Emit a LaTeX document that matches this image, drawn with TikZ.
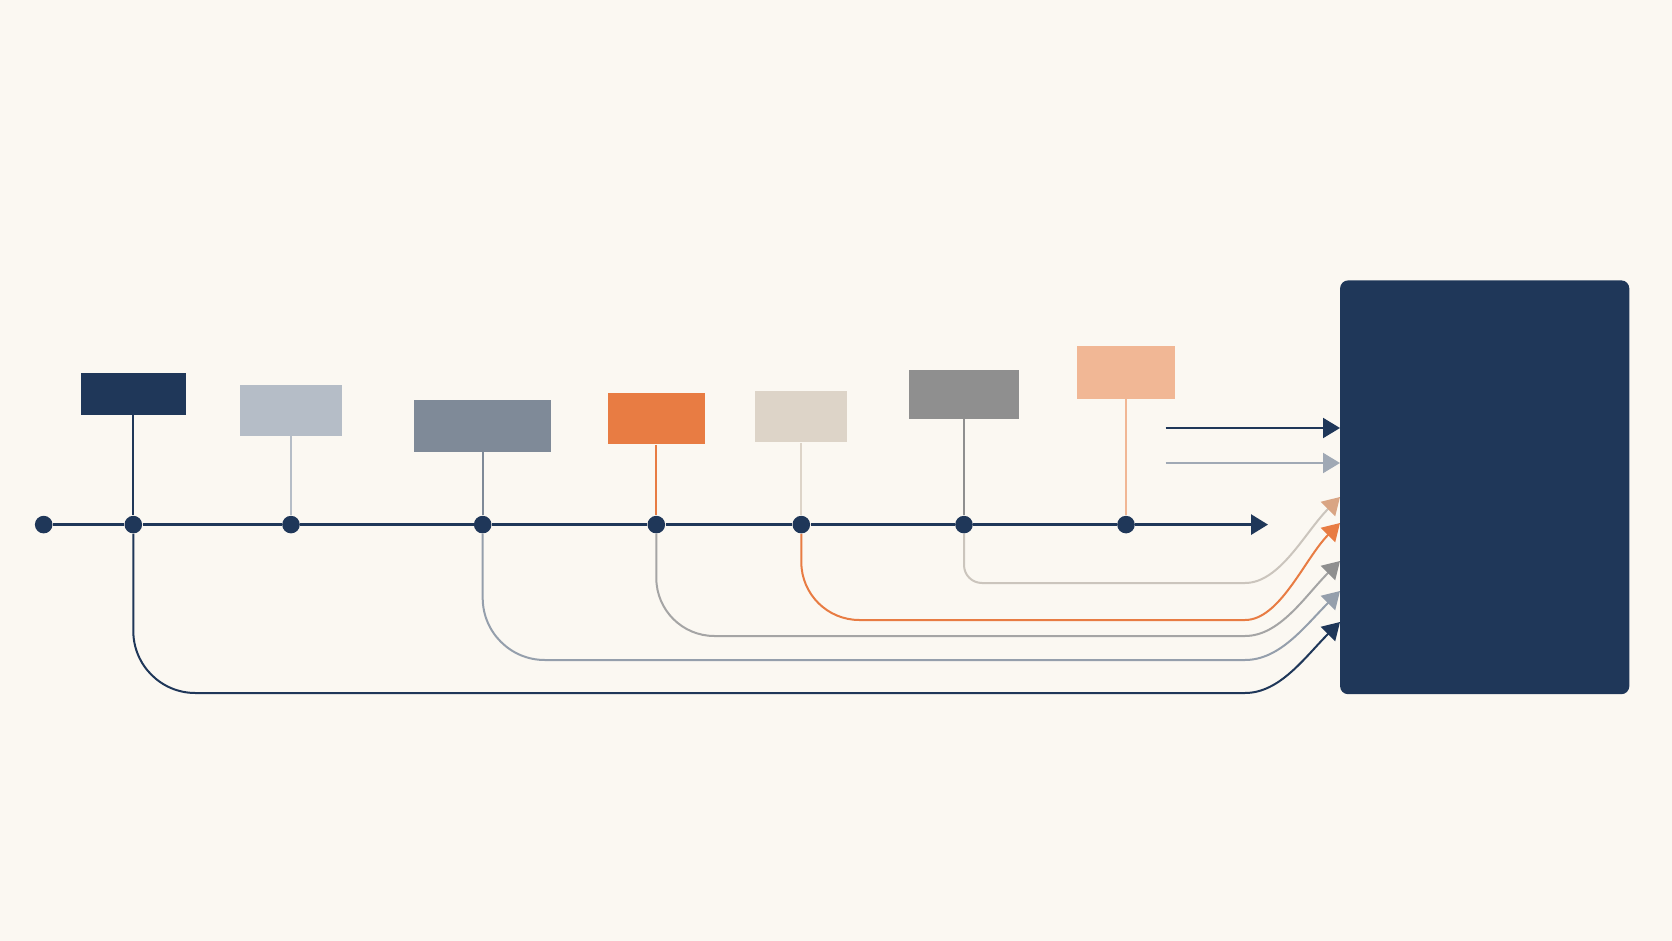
\documentclass[tikz,border=0pt]{standalone}
\usetikzlibrary{arrows.meta}
\definecolor{bgcol}{HTML}{FBF8F2}
\definecolor{navy}{HTML}{1F3759}
\definecolor{mist}{HTML}{B5BDC7}
\definecolor{slate}{HTML}{7F8A98}
\definecolor{rust}{HTML}{E87C43}
\definecolor{sand}{HTML}{DDD4C8}
\definecolor{ash}{HTML}{8F8F8F}
\definecolor{peach}{HTML}{F1B795}
\definecolor{tanarr}{HTML}{D9A584}
\definecolor{pebble}{HTML}{CBC5BD}
\definecolor{bluegray}{HTML}{959FAC}
\definecolor{fog}{HTML}{A0A9B5}
\def\Ty{524.6}
\def\Hx{1245}
\def\Bx{1340}

\begin{document}
\begin{tikzpicture}[x=0.5pt,y=-0.5pt,
  tag/.style={rectangle,inner sep=0pt},
  dot/.style={circle,fill=navy,inner sep=0pt,minimum size=8.8pt},
  stem/.style={line width=1pt},
  link/.style={line width=1pt},
  tip/.style={-{Triangle[length=8.5pt,width=10pt]}}]
\fill[bgcol] (0,0) rectangle (1672,941);
\useasboundingbox (0,0) rectangle (1672,941);

\node[tag,fill=navy,minimum width=52.25pt,minimum height=21pt] (b1) at (133.3,394) {};
\node[tag,fill=mist,minimum width=51pt,minimum height=25.5pt] (b2) at (291,410.5) {};
\node[tag,fill=slate,minimum width=68.5pt,minimum height=26pt] (b3) at (482.7,426) {};
\node[tag,fill=rust,minimum width=48.5pt,minimum height=25.5pt] (b4) at (656.3,419) {};
\node[tag,fill=sand,minimum width=46pt,minimum height=25.75pt] (b5) at (801.3,416.7) {};
\node[tag,fill=ash,minimum width=54.75pt,minimum height=24.5pt] (b6) at (964,394.5) {};
\node[tag,fill=peach,minimum width=49pt,minimum height=26.25pt] (b7) at (1126,372.7) {};

\node[tag,fill=navy,rounded corners=4pt,minimum width=144.6pt,minimum height=206.9pt] (blk) at (1484.7,487.3) {};

\node[dot] (d0) at (43.7,\Ty) {};
\node[dot] (d1) at (133.3,\Ty) {};
\node[dot] (d2) at (291,\Ty) {};
\node[dot] (d3) at (482.7,\Ty) {};
\node[dot] (d4) at (656.3,\Ty) {};
\node[dot] (d5) at (801.3,\Ty) {};
\node[dot] (d6) at (964,\Ty) {};
\node[dot] (d7) at (1126,\Ty) {};

\coordinate (tl) at (1268,\Ty);
\coordinate (a0) at (1165.5,428);
\coordinate (a1) at (\Bx,428);
\coordinate (e0) at (1165.5,463);
\coordinate (e1) at (\Bx,463);
\coordinate (tc) at (\Bx,497);
\coordinate (td) at (\Bx,523);
\coordinate (te) at (\Bx,561);
\coordinate (tf) at (\Bx,591);
\coordinate (tg) at (\Bx,622);

\draw[stem,navy] (b1) -- (d1);
\draw[stem,mist] (b2) -- (d2);
\draw[stem,slate] (b3) -- (d3);
\draw[stem,rust] (b4) -- (d4);
\draw[stem,sand] (b5) -- (d5);
\draw[stem,ash] (b6) -- (d6);
\draw[stem,peach] (b7) -- (d7);

\draw[line width=1.5pt,navy,tip] (d0) -- (d1) -- (d2) -- (d3) -- (d4) -- (d5) -- (d6) -- (d7) -- (tl);

\draw[link,navy,tip] (a0) -- (a1);
\draw[link,fog,tip] (e0) -- (e1);

\draw[link,navy,tip] (d1) -- (133.3,631) .. controls (133.3,665.2) and (161.1,693) .. (195.3,693)
  -- (\Hx,693) .. controls (1280,693) and (1305,657) .. (tg);
\draw[link,bluegray,tip] (d3) -- (482.7,598) .. controls (482.7,632.2) and (510.5,660) .. (544.7,660)
  -- (\Hx,660) .. controls (1280,660) and (1305,626) .. (tf);
\draw[link,ash!80,-{Triangle[length=8.5pt,width=10pt,color=ash]}] (d4) -- (656.3,578) .. controls (656.3,610) and (682.3,636) .. (714.3,636)
  -- (\Hx,636) .. controls (1280,636) and (1305,596) .. (te);
\draw[link,rust,tip] (d5) -- (801.3,562) .. controls (801.3,594) and (827.3,620) .. (859.3,620)
  -- (\Hx,620) .. controls (1280,620) and (1305,558) .. (td);
\draw[link,pebble,-{Triangle[length=8.5pt,width=10pt,color=tanarr]}] (d6) -- (964,565) .. controls (964,575) and (972,583) .. (982,583)
  -- (\Hx,583) .. controls (1280,583) and (1305,532) .. (tc);
\end{tikzpicture}
\end{document}
